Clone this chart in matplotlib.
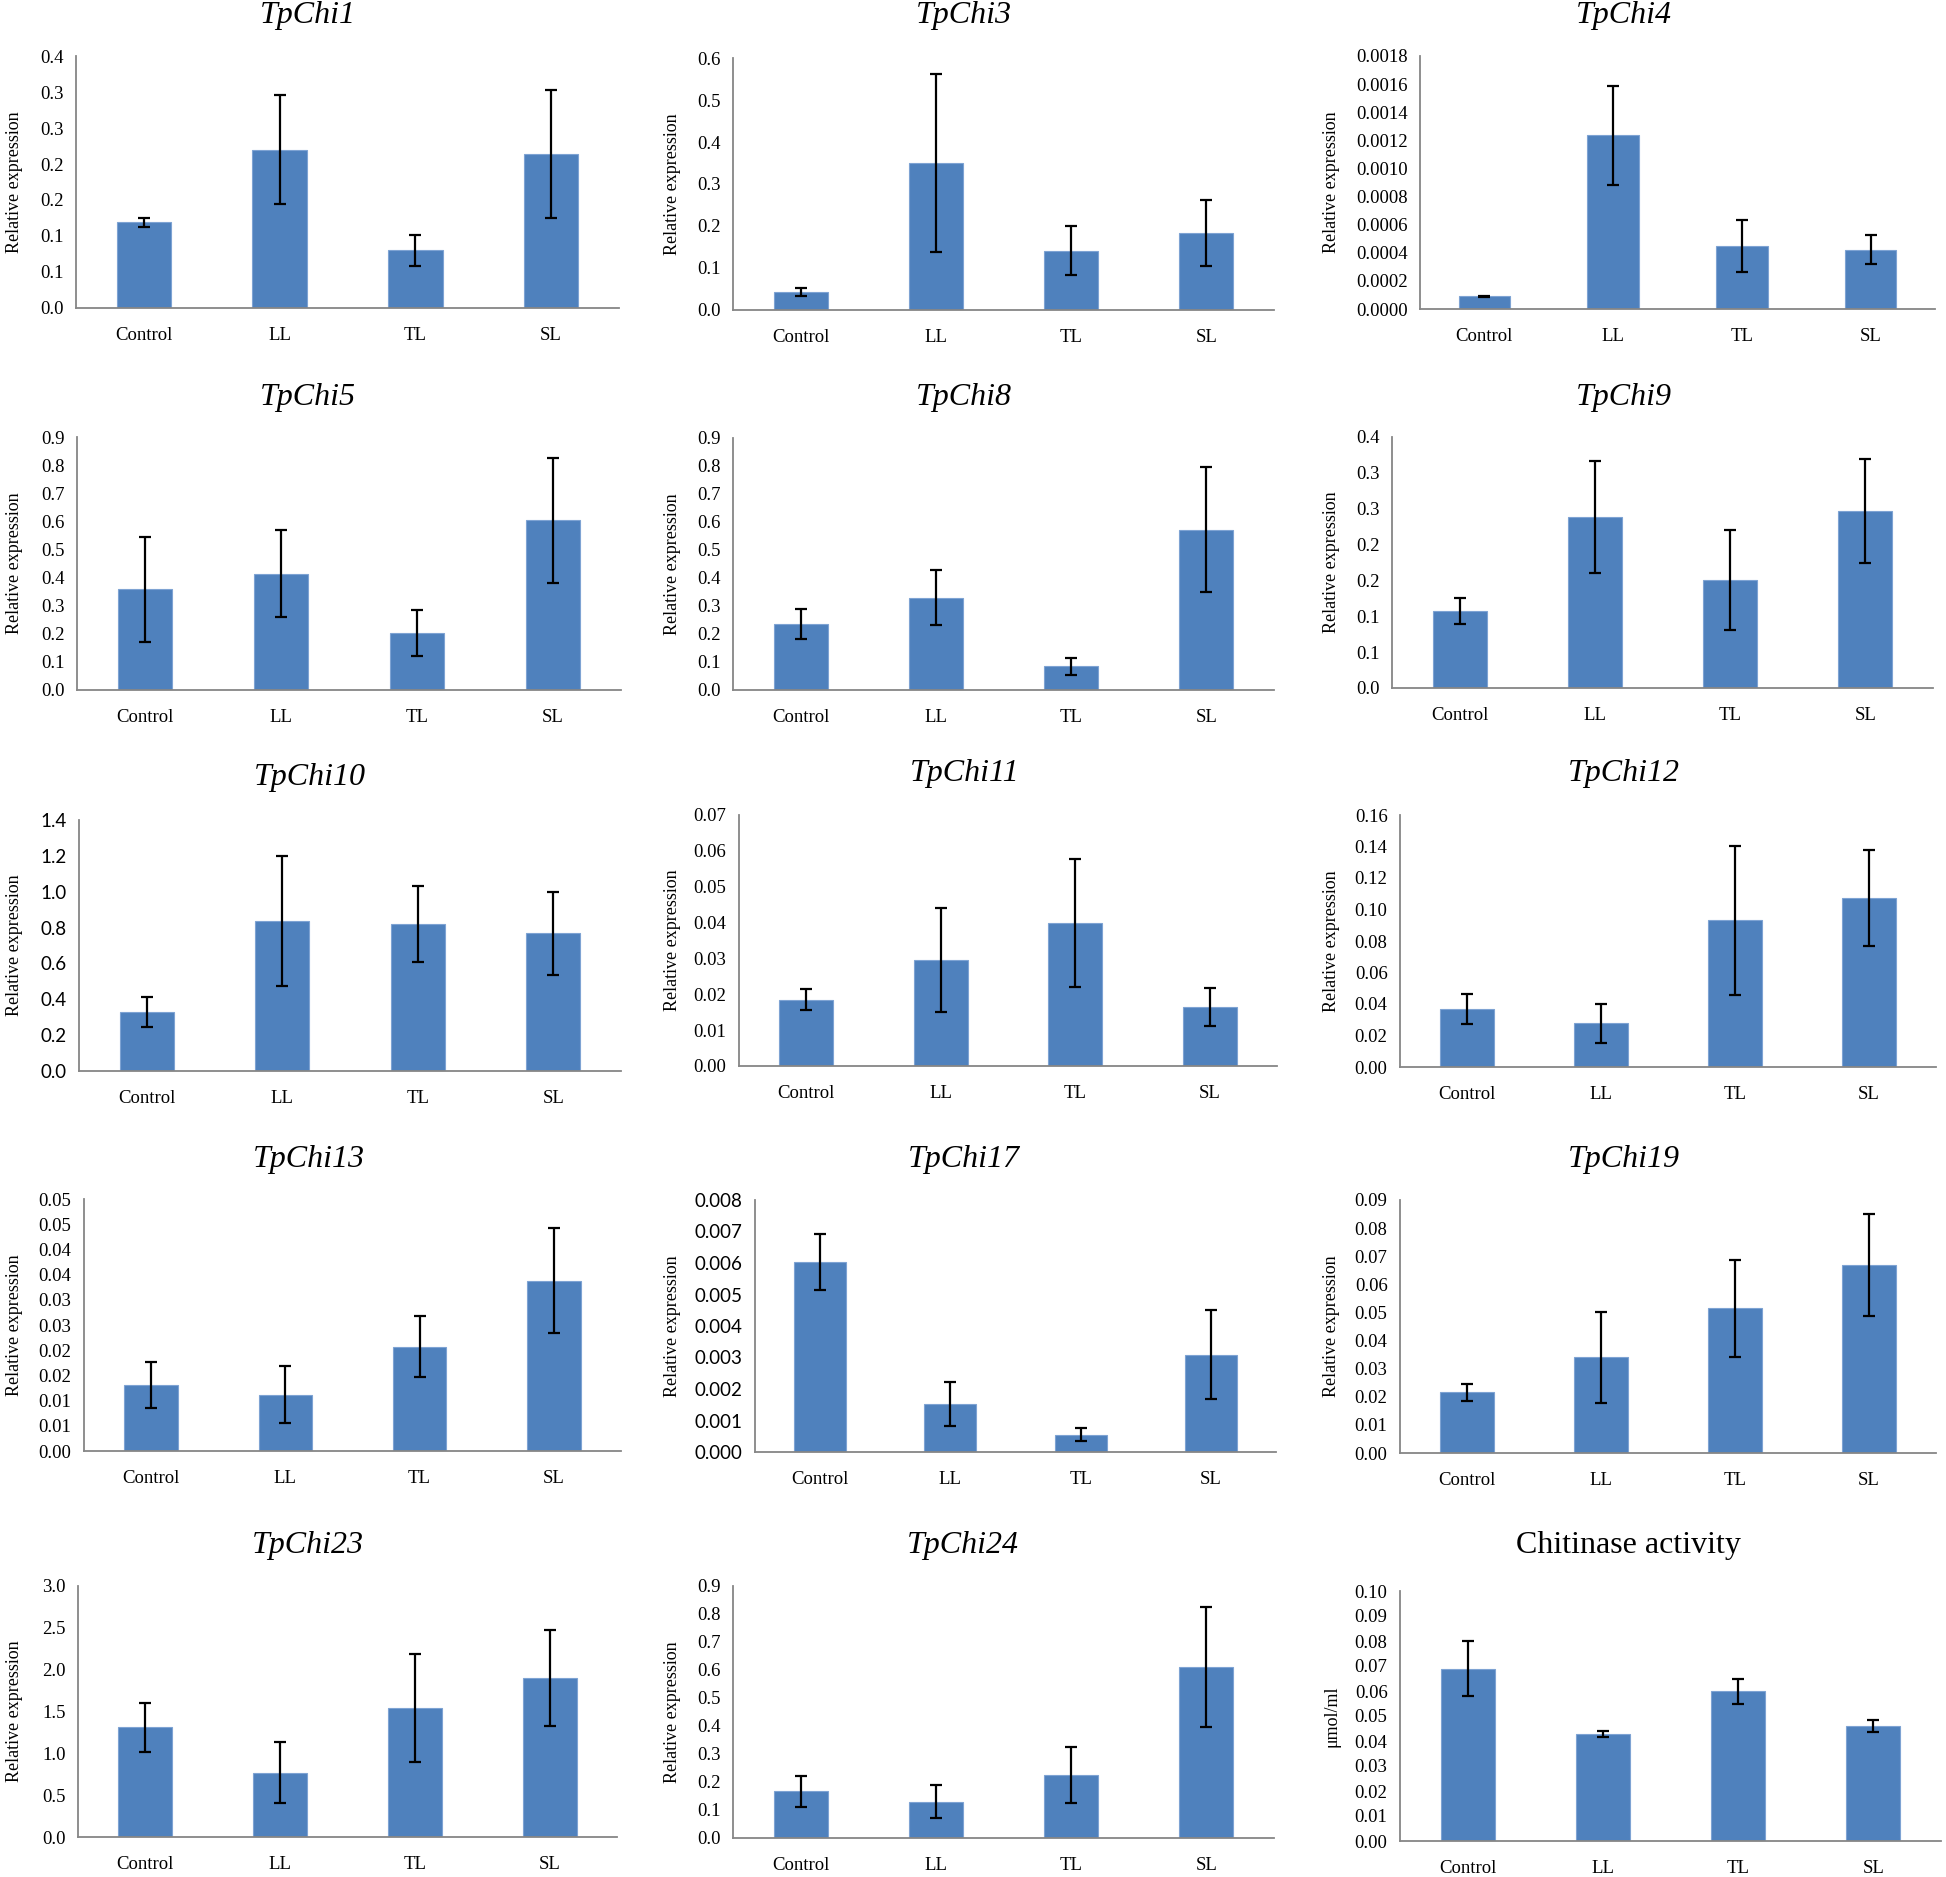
import numpy as np
import matplotlib.pyplot as plt

# groups on the x axis
groups = ['Control', 'LL', 'TL', 'SL']

# mean values and error bars
tpchi1 = [0.119, 0.220, 0.080, 0.214]
tpchi1_err = [0.006, 0.076, 0.022, 0.089]
tpchi3 = [0.043, 0.350, 0.141, 0.184]
tpchi3_err = [0.009, 0.213, 0.058, 0.079]
tpchi4 = [0.00009, 0.001235, 0.000449, 0.000423]
tpchi4_err = [0.000004, 0.00035, 0.000187, 0.000105]
tpchi5 = [0.359, 0.413, 0.202, 0.603]
tpchi5_err = [0.187, 0.155, 0.081, 0.223]
tpchi8 = [0.235, 0.329, 0.084, 0.573]
tpchi8_err = [0.054, 0.098, 0.032, 0.223]
tpchi9 = [0.1075, 0.238, 0.151, 0.247]
tpchi9_err = [0.018, 0.078, 0.070, 0.073]
tpchi10 = [0.330, 0.836, 0.821, 0.767]
tpchi10_err = [0.085, 0.364, 0.213, 0.234]
tpchi11 = [0.0185, 0.0296, 0.0399, 0.0165]
tpchi11_err = [0.0029, 0.0145, 0.0178, 0.0053]
tpchi12 = [0.0366, 0.0277, 0.0931, 0.1073]
tpchi12_err = [0.0096, 0.0126, 0.0472, 0.0307]
tpchi13 = [0.0131, 0.0112, 0.0207, 0.0338]
tpchi13_err = [0.0045, 0.0056, 0.0060, 0.0104]
tpchi17 = [0.00603, 0.00153, 0.00055, 0.00309]
tpchi17_err = [0.00089, 0.00070, 0.00020, 0.00142]
tpchi19 = [0.0216, 0.0340, 0.0515, 0.0669]
tpchi19_err = [0.0030, 0.0162, 0.0172, 0.0182]
tpchi23 = [1.31, 0.77, 1.54, 1.90]
tpchi23_err = [0.29, 0.36, 0.645, 0.57]
tpchi24 = [0.167, 0.130, 0.225, 0.610]
tpchi24_err = [0.055, 0.060, 0.100, 0.215]
chitinase = [0.069, 0.043, 0.060, 0.046]
chitinase_err = [0.011, 0.0012, 0.005, 0.0025]

# Excel-rounded tick labels that repeat
ticks_035 = ['0.0', '0.1', '0.1', '0.2', '0.2', '0.3', '0.3', '0.4']
ticks_005 = ['0.00', '0.01', '0.01', '0.02', '0.02', '0.03', '0.03',
             '0.04', '0.04', '0.05', '0.05']

W, H = 1946, 1877
BLUE = '#4F81BD'
SERIF = 'Liberation Serif'
SANS = 'Lato'

plt.rcParams['font.family'] = SERIF

fig = plt.figure(figsize=(W / 100, H / 100), dpi=100)

# (title, means, errs, ymax, step, decimals or labels, tick font,
#  axes box in px: left, right, top, bottom, title x, title y, ylabel x, ylabel)
ylab = 'Relative expression'
panels = [
    ('TpChi1', tpchi1, tpchi1_err, 0.35, 0.05, ticks_035, SERIF, (76, 619, 56, 308), (308, 15), 6, ylab),
    ('TpChi3', tpchi3, tpchi3_err, 0.6, 0.1, 1, SERIF, (733, 1274, 58, 310), (964, 15), 664, ylab),
    ('TpChi4', tpchi4, tpchi4_err, 0.0018, 0.0002, 4, SERIF, (1420, 1935, 56, 309), (1624, 15), 1323, ylab),
    ('TpChi5', tpchi5, tpchi5_err, 0.9, 0.1, 1, SERIF, (77, 621, 437, 690), (308, 397), 6, ylab),
    ('TpChi8', tpchi8, tpchi8_err, 0.9, 0.1, 1, SERIF, (733, 1274, 438, 690), (964, 397), 664, ylab),
    ('TpChi9', tpchi9, tpchi9_err, 0.35, 0.05, ticks_035, SERIF, (1392, 1933, 437, 688), (1624, 397), 1323, ylab),
    ('TpChi10', tpchi10, tpchi10_err, 1.4, 0.2, 1, SANS, (79, 621, 820, 1071), (310, 778), 6, ylab),
    ('TpChi11', tpchi11, tpchi11_err, 0.07, 0.01, 2, SERIF, (739, 1277, 815, 1066), (965, 773), 664, ylab),
    ('TpChi12', tpchi12, tpchi12_err, 0.16, 0.02, 2, SERIF, (1400, 1936, 815, 1067), (1624, 773), 1323, ylab),
    ('TpChi13', tpchi13, tpchi13_err, 0.05, 0.005, ticks_005, SERIF, (84, 621, 1199, 1451), (309, 1159), 6, ylab),
    ('TpChi17', tpchi17, tpchi17_err, 0.008, 0.001, 3, SANS, (755, 1276, 1200, 1452), (964, 1159), 664, ylab),
    ('TpChi19', tpchi19, tpchi19_err, 0.09, 0.01, 2, SERIF, (1400, 1936, 1200, 1453), (1624, 1159), 1323, ylab),
    ('TpChi23', tpchi23, tpchi23_err, 3.0, 0.5, 1, SERIF, (78, 617, 1586, 1837), (308, 1545), 6, ylab),
    ('TpChi24', tpchi24, tpchi24_err, 0.9, 0.1, 1, SERIF, (733, 1274, 1586, 1838), (963, 1545), 664, ylab),
    ('Chitinase activity', chitinase, chitinase_err, 0.10, 0.01, 2, SERIF, (1400, 1941, 1591, 1841), (1628, 1545), 1323, 'μmol/ml'),
]

x = np.arange(len(groups))
for title, vals, errs, ymax, step, fmt, tfont, box, tpos, ylx, ytxt in panels:
    l, r, t, b = box
    ax = fig.add_axes([l / W, 1 - b / H, (r - l) / W, (b - t) / H])
    ax.bar(x, vals, width=0.4, color=BLUE, edgecolor='#7EA3D3', linewidth=0.8, zorder=2)
    ax.errorbar(x, vals, yerr=errs, fmt='none', ecolor='black', elinewidth=1.6,
                capsize=4, capthick=1.6, zorder=3)
    ax.set_xlim(-0.5, len(groups) - 0.5)
    ax.set_ylim(0, ymax)
    yt = np.arange(0, ymax + step / 2, step)
    ax.set_yticks(yt)
    if isinstance(fmt, list):
        ax.set_yticklabels(fmt)
    else:
        ax.set_yticklabels([f'{v:.{fmt}f}' for v in yt])
    for lab in ax.get_yticklabels():
        lab.set_fontfamily(tfont)
        lab.set_fontsize(13.5)
    ax.set_xticks(x)
    ax.set_xticklabels(groups, fontsize=13.5)
    ax.tick_params(axis='both', length=0)
    ax.tick_params(axis='y', pad=9)
    ax.tick_params(axis='x', pad=14)
    for s in ['top', 'right']:
        ax.spines[s].set_visible(False)
    for s in ['left', 'bottom']:
        ax.spines[s].set_color('#868686')
        ax.spines[s].set_linewidth(1.3)
    style = 'normal' if title.startswith('Chitinase') else 'italic'
    fig.text(tpos[0] / W, 1 - tpos[1] / H, title, fontsize=23, style=style,
             ha='center', va='center')
    fig.text(ylx / W, 1 - (t + b) / 2 / H, ytxt, fontsize=13, rotation=90,
             ha='left', va='center')

fig.savefig('out.png', dpi=100, facecolor='white')
